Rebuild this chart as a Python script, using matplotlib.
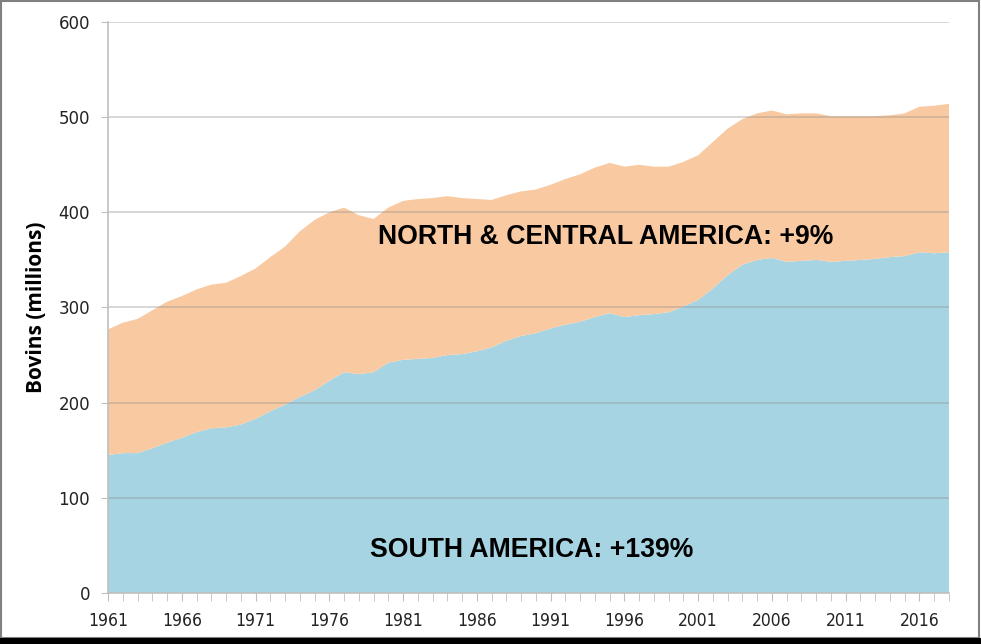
import matplotlib
matplotlib.use("Agg")
import matplotlib.pyplot as plt
from matplotlib.patches import Rectangle
import numpy as np

years = list(range(1961, 2019))
south_america = [145, 147, 147, 152, 158, 163, 169, 173, 174, 177, 183, 191, 198, 206, 213, 223, 232, 230, 232, 242,
                 245, 246, 247, 250, 251, 254, 258, 265, 270, 273, 278, 282, 285, 290, 294, 290, 292, 293, 295, 301,
                 308, 320, 334, 345, 350, 352, 348, 349, 350, 348, 349, 350, 351, 353, 354, 358, 357, 358]
total = [277, 284, 288, 297, 306, 312, 319, 324, 326, 333, 341, 353, 364, 380, 392, 400, 405, 397, 393, 405,
         412, 414, 415, 417, 415, 414, 413, 418, 422, 424, 429, 435, 440, 447, 452, 448, 450, 448, 448, 453,
         460, 474, 488, 498, 504, 507, 503, 504, 504, 501, 501, 501, 501, 502, 504, 511, 512, 514]
north_central = [t - s for t, s in zip(total, south_america)]
label_years = [1961, 1966, 1971, 1976, 1981, 1986, 1991, 1996, 2001, 2006, 2011, 2016]

fig = plt.figure(figsize=(9.81, 6.44), dpi=100)
ax = fig.add_axes([108/981, 1 - 593/644, (949-108)/981, (593-22)/644])

ax.stackplot(years, south_america, north_central, colors=["#A6D4E2", "#F9CAA2"], linewidth=0, zorder=1)

ax.set_xlim(1961, 2018)
ax.set_ylim(0, 600)
ax.set_yticks(range(0, 601, 100))
for v in range(100, 601, 100):
    ax.axhline(v, color="#8c8c8c", alpha=0.4, lw=1.2, zorder=2)

ax.set_xticks(years, minor=True)
ax.set_xticks(label_years)
ax.set_xticklabels([str(y) for y in label_years], family="DejaVu Sans", stretch="condensed", fontsize=12.5)
ax.tick_params(axis="x", which="both", length=6, color="#BFBFBF", pad=8, direction="out")
ax.tick_params(axis="y", length=5, color="#BFBFBF", labelsize=12, pad=8)
for lab in ax.get_yticklabels():
    lab.set_family("DejaVu Sans")
    lab.set_color("#222222")
for lab in ax.get_xticklabels():
    lab.set_color("#222222")

for side in ["top", "right"]:
    ax.spines[side].set_visible(False)
ax.spines["left"].set_color("#BFBFBF")
ax.spines["bottom"].set_color("#BFBFBF")
ax.spines["left"].set_linewidth(1.2)
ax.spines["bottom"].set_linewidth(1.2)
ax.spines["bottom"].set_zorder(3)

ax.set_ylabel("Bovins (millions)", fontsize=15, fontweight="bold", family="Open Sans", labelpad=8)

ax.text(1994.7, 374, "NORTH & CENTRAL AMERICA: +9%", ha="center", va="center",
        fontsize=19.2, fontweight="bold", family="Liberation Sans", zorder=4)
ax.text(1989.7, 45, "SOUTH AMERICA: +139%", ha="center", va="center",
        fontsize=19.2, fontweight="bold", family="Liberation Sans", zorder=4)

# figure frame
fig.patches.append(Rectangle((1/981, 6/644), 978/981, 637/644, transform=fig.transFigure,
                             fill=False, edgecolor="#808080", lw=1.5))
fig.patches.append(Rectangle((0, 0), 1, 6/644, transform=fig.transFigure,
                             facecolor="black", edgecolor="none"))

fig.savefig("out.png", dpi=100)
